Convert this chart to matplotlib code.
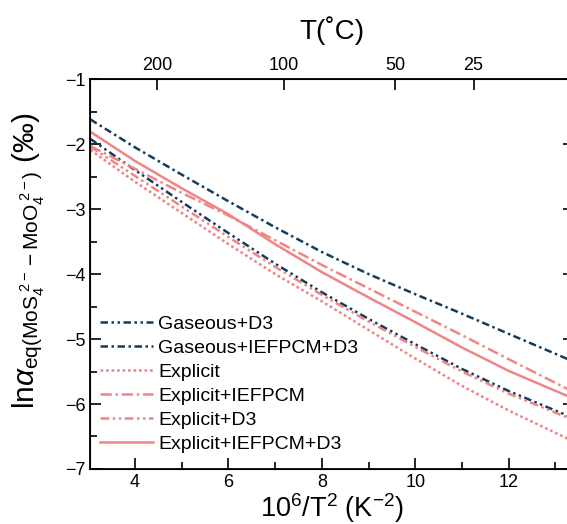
import matplotlib
matplotlib.use("Agg")
import matplotlib.pyplot as plt

plt.rcParams['font.family'] = ['Liberation Sans', 'DejaVu Sans']
plt.rcParams['mathtext.fontset'] = 'custom'
plt.rcParams['mathtext.rm'] = 'Liberation Sans'
plt.rcParams['mathtext.it'] = 'Liberation Sans:italic'
plt.rcParams['mathtext.bf'] = 'Liberation Sans:bold'

# 10^6/T^2 values (K^-2)
x = [3.044, 4, 5, 6, 7, 8, 9, 10, 11, 12, 13.4]

gas_d3 = [-1.92, -2.40, -2.89, -3.37, -3.84, -4.28, -4.69, -5.08, -5.46, -5.80, -6.22]
gas_iefpcm_d3 = [-1.62, -2.05, -2.47, -2.88, -3.28, -3.66, -4.00, -4.31, -4.61, -4.92, -5.35]
explicit = [-2.09, -2.58, -3.06, -3.54, -4.00, -4.42, -4.86, -5.30, -5.72, -6.10, -6.58]
explicit_iefpcm = [-2.03, -2.38, -2.75, -3.10, -3.48, -3.86, -4.22, -4.58, -4.94, -5.31, -5.82]
explicit_d3 = [-2.04, -2.49, -2.96, -3.43, -3.89, -4.32, -4.73, -5.12, -5.50, -5.84, -6.25]
explicit_iefpcm_d3 = [-1.81, -2.26, -2.68, -3.08, -3.54, -3.97, -4.36, -4.74, -5.13, -5.49, -5.92]

top_temps = [200, 100, 50, 25]

navy = '#123d5e'
salmon = '#ef8584'

fig = plt.figure(figsize=(5.67, 5.24), dpi=100)
ax = fig.add_axes([0.1594, 0.105, 0.853, 0.744])

lw = 1.8
ax.plot(x, gas_d3, color=navy, lw=lw, dashes=(3, 1.4, 1, 1.4, 1, 1.4), label='Gaseous+D3')
ax.plot(x, gas_iefpcm_d3, color=navy, lw=lw, dashes=(3, 1.4, 1, 1.4), label='Gaseous+IEFPCM+D3')
ax.plot(x, explicit, color=salmon, lw=lw, dashes=(1.1, 1.1), label='Explicit')
ax.plot(x, explicit_iefpcm, color=salmon, lw=lw, dashes=(4.5, 1.5, 1, 1.5), label='Explicit+IEFPCM')
ax.plot(x, explicit_d3, color=salmon, lw=lw, dashes=(3.5, 1.4, 1, 1.4, 1, 1.4), label='Explicit+D3')
ax.plot(x, explicit_iefpcm_d3, color=salmon, lw=lw, label='Explicit+IEFPCM+D3')

ax.set_xlim(3.044, 13.4)
ax.set_ylim(-7, -1)
ax.set_xticks([4, 6, 8, 10, 12])
ax.set_xticks([5, 7, 9, 11, 13], minor=True)
ax.set_yticks([-7, -6, -5, -4, -3, -2, -1])
ax.set_yticklabels(['\u22127', '\u22126', '\u22125', '\u22124', '\u22123', '\u22122', '\u22121'])
ax.set_yticks([-6.5, -5.5, -4.5, -3.5, -2.5, -1.5], minor=True)
ax.tick_params(which='both', direction='in', right=True, top=False, labelsize=13, width=1.2)
ax.tick_params(which='major', length=8)
ax.tick_params(which='minor', length=5)
for s in ax.spines.values():
    s.set_linewidth(1.3)

ax.set_xlabel(r'10$^6$/T$^2$ (K$^{-2}$)', fontsize=19.5, labelpad=0)
ax.set_ylabel(r'ln$\mathit{\alpha}_{\mathrm{eq(MoS_4^{\ 2-}-MoO_4^{\ 2-})}}$ (‰)', fontsize=21.5)
ax.yaxis.set_label_coords(-0.09, 0.535)

# top axis in degrees C
ax2 = ax.twiny()
ax2.set_xlim(ax.get_xlim())
ax2.set_xticks([1e6 / (t + 273.15) ** 2 for t in top_temps])
ax2.set_xticklabels([str(t) for t in top_temps])
ax2.tick_params(direction='in', length=8, width=1.2, labelsize=13)
ax2.set_xlabel('T(\u02daC)', fontsize=20, labelpad=13)

ax.legend(loc='lower left', bbox_to_anchor=(-0.002, 0.013), frameon=False, fontsize=14,
          handlelength=2.7, handletextpad=0.3, labelspacing=0.33, borderaxespad=0.15)

fig.savefig('out.png', dpi=100)
